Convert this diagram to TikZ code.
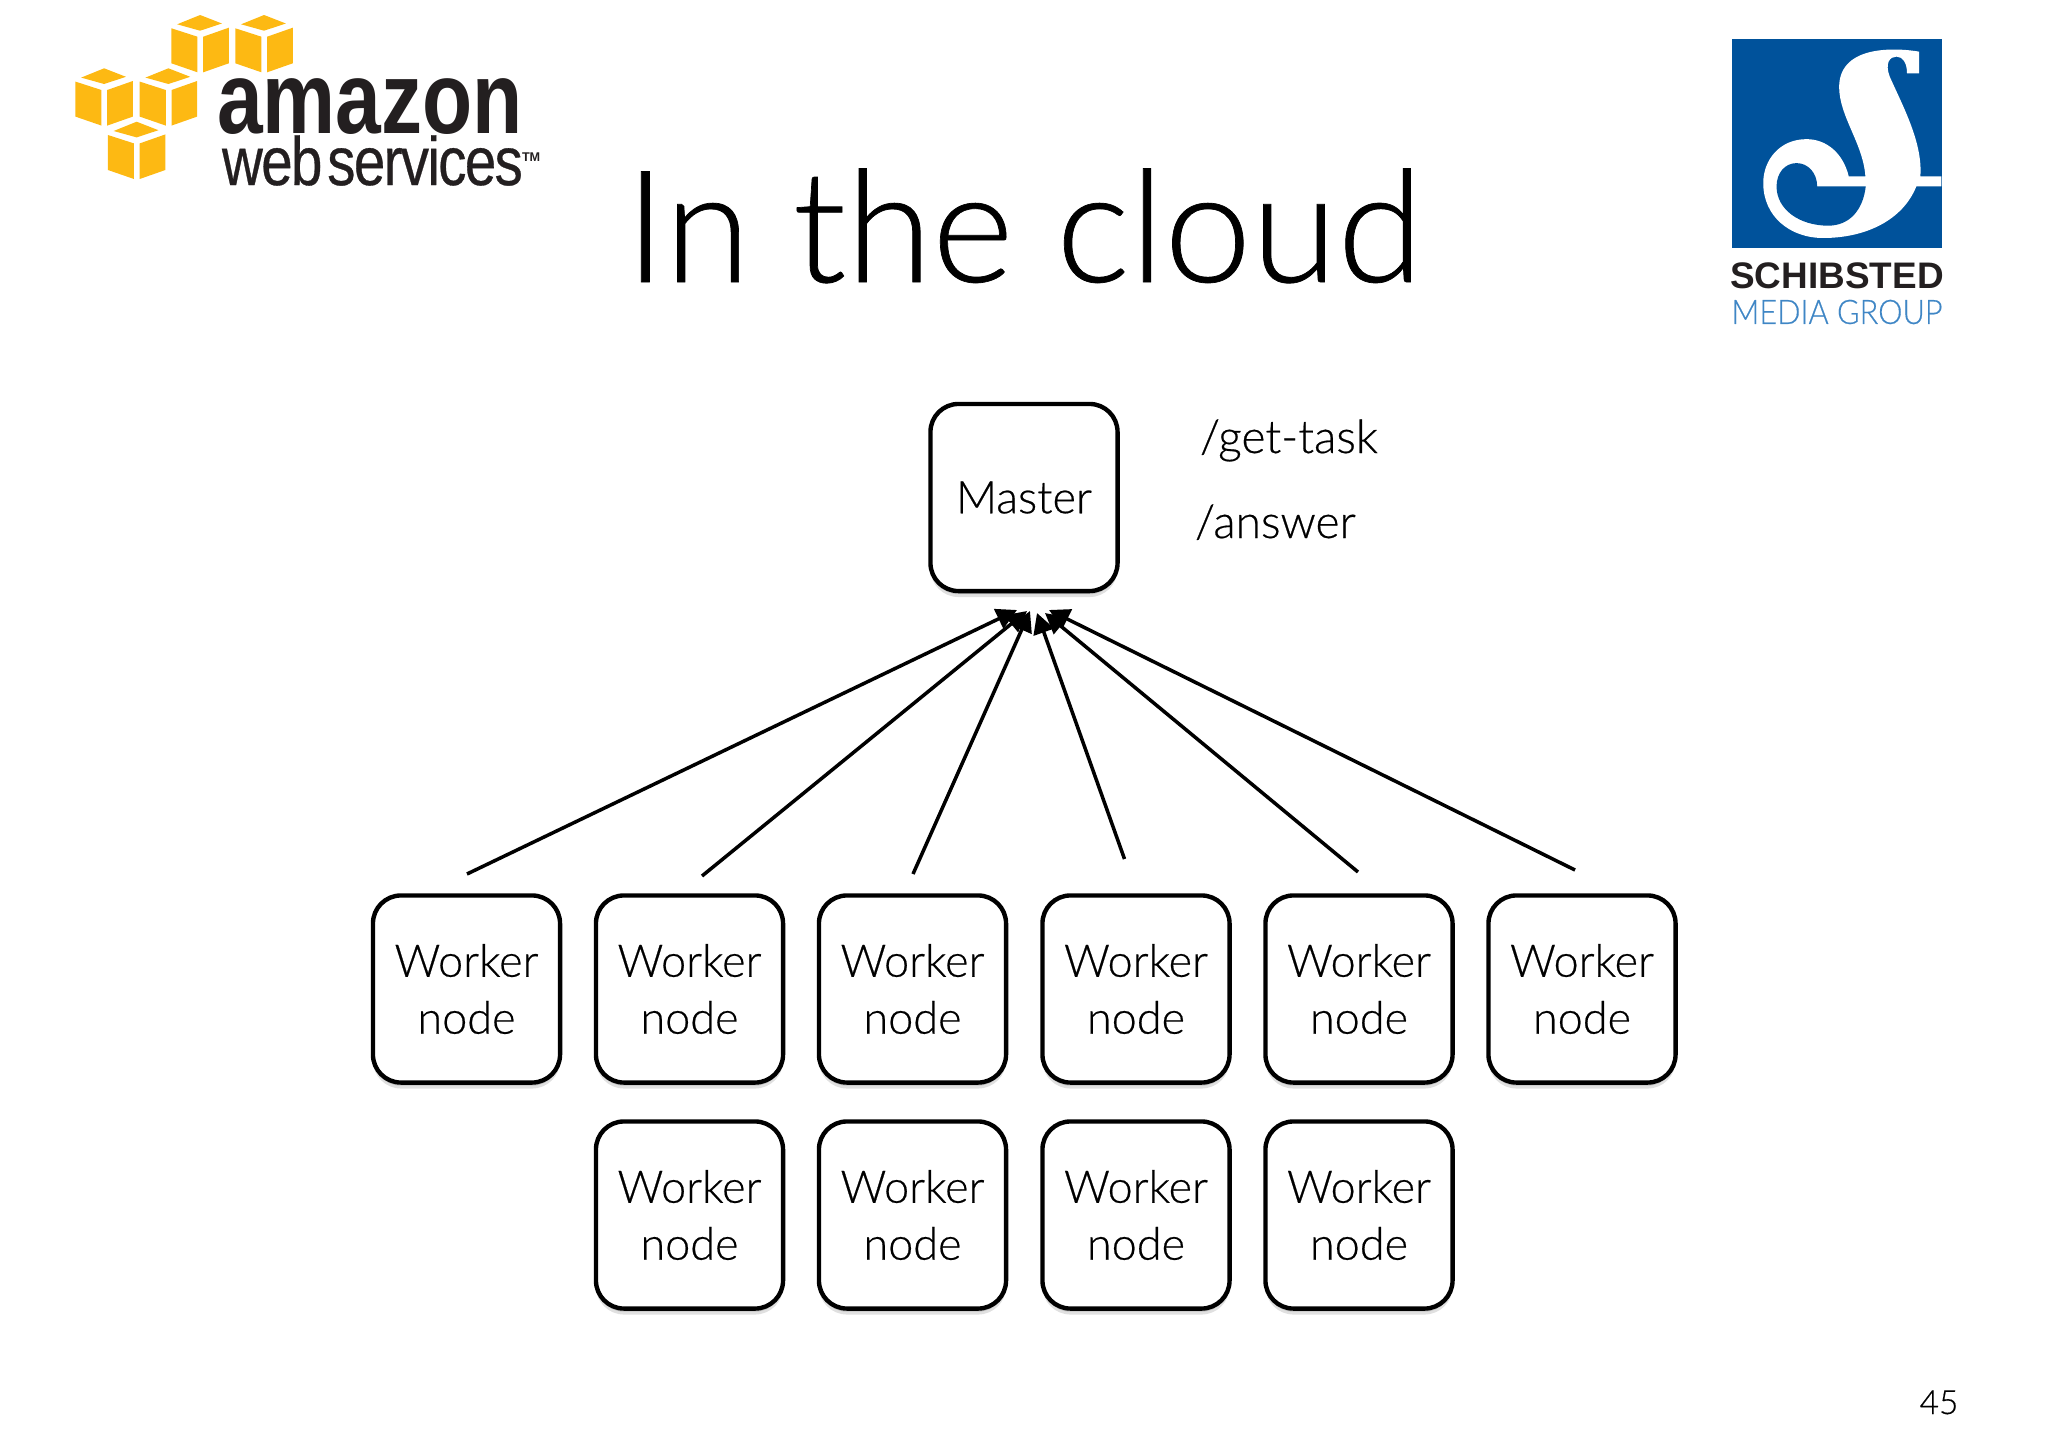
\documentclass[tikz,border=0pt]{standalone}
\usepackage{fontspec}
\setmainfont{Liberation Sans}
\newfontfamily\lightfont[FakeBold=0.45]{Lato Light}
\newfontfamily\tightfont[LetterSpace=-3,WordSpace=0.35,FakeBold=0.5]{Liberation Sans}
\usetikzlibrary{arrows.meta,shadows}

\tikzset{
    boxnode/.style={draw, line width=1.25pt, rounded corners=0.28cm, fill=white, align=center,
        minimum width=1.87cm, minimum height=1.87cm, inner sep=0pt, outer sep=0pt,
        font=\lightfont\fontsize{12.8}{16.2}\selectfont,
        general shadow={fill=black, opacity=0.12, shadow yshift=-1.7pt},
        general shadow={fill=black, opacity=0.12, shadow yshift=-0.9pt}},
    workernode/.style={boxnode, execute at begin node={\rule{0pt}{1.02em}}},
    workerarrow/.style={-{Triangle[length=5.8pt,width=6pt]}, line width=1pt},
    plaintext/.style={inner sep=0pt, outer sep=0pt},
}
\definecolor{awsyellow}{HTML}{FDB913}
\definecolor{logoblack}{HTML}{231F20}
\definecolor{schibblue}{HTML}{00529B}
\definecolor{medialabel}{HTML}{3F86C5}

% one yellow cube of the logo, #1 is the point at its top
\newcommand{\awscube}[1]{
    \begin{scope}[shift={#1}]
        \fill[awsyellow] (-20,9.3) -- (0,0) -- (19,8.5) -- (0,15.7) -- cycle;
        \fill[awsyellow] (-25,13.3) -- (-2.3,21.7) -- (-2.3,57.3) -- (-25,48.3) -- cycle;
        \fill[awsyellow] (2.7,21.7) -- (25,12.7) -- (25,48.3) -- (2.7,57.3) -- cycle;
    \end{scope}
}

\begin{document}
\begin{tikzpicture}[x=0.01cm, y=-0.01cm]
    \useasboundingbox (0,0) rectangle (2048,1448);

    % left logo
    \begin{scope}[x=0.01148cm, y=-0.01cm]
        \awscube{(174.3,15)}
        \awscube{(230,15)}
        \awscube{(90.7,68.3)}
        \awscube{(146.7,68.3)}
        \awscube{(119,121.7)}
    \end{scope}
    \node[plaintext, anchor=base west, text=logoblack, font=\fontsize{29}{29}\selectfont\bfseries, xscale=0.805, transform shape] (amazon) at (217,133) {amazon};
    \node[plaintext, anchor=base west, text=logoblack, font=\tightfont\fontsize{19.5}{19.5}\selectfont, xscale=0.825, transform shape] (webservices) at (222,185) {web services};
    \node[plaintext, anchor=base west, text=logoblack, font=\fontsize{3.6}{4}\selectfont\bfseries] (tm) at (522,161) {TM};

    % right logo
    \fill[schibblue] (1732,39) rectangle (1942,248);
    \begin{scope}[shift={(1700,20)}, x=0.00333cm, y=-0.00333cm]
        \fill[white] (658,95) .. controls (600,85) and (420,70) .. (418,200)
            .. controls (418,290) and (490,370) .. (497,470) -- (447,470)
            .. controls (430,400) and (380,358) .. (320,358)
            .. controls (240,358) and (190,420) .. (190,490)
            .. controls (190,590) and (270,655) .. (370,655)
            .. controls (500,655) and (610,600) .. (650,500)
            -- (725,500) -- (725,470) -- (662,470)
            .. controls (670,370) and (610,260) .. (570,170)
            .. controls (555,130) and (570,110) .. (590,110)
            .. controls (610,110) and (622,130) .. (622,160)
            -- (658,160) -- cycle;
        \fill[schibblue] (352,500) -- (498,500)
            .. controls (490,570) and (450,618) .. (385,618)
            .. controls (300,618) and (230,570) .. (230,500)
            .. controls (230,460) and (255,430) .. (290,430)
            .. controls (325,430) and (352,460) .. (352,500) -- cycle;
    \end{scope}
    \node[plaintext, text=logoblack, font=\fontsize{10.5}{10.5}\selectfont\bfseries] (schibsted) at (1837,276) {SCHIBSTED};
    \node[plaintext, text=medialabel, font=\lightfont\fontsize{9.6}{9.6}\selectfont, xscale=0.91, transform shape] (media) at (1837,312) {MEDIA GROUP};

    % title
    \node[plaintext, anchor=base, font=\lightfont\fontsize{44.4}{44.4}\selectfont] (title) at (1024,282) {In the cloud};

    \node[boxnode] (master) at (1024,497.5) {Master};
    \node[plaintext, anchor=base west, font=\lightfont\fontsize{13.1}{13.1}\selectfont] (gettask) at (1200,453) {/get-task};
    \node[plaintext, anchor=base west, font=\lightfont\fontsize{13.1}{13.1}\selectfont] (answer) at (1195,538) {/answer};

    \node[workernode] (w1) at (466.5,989) {Worker\\node};
    \node[workernode] (w2) at (689.5,989) {Worker\\node};
    \node[workernode] (w3) at (912.5,989) {Worker\\node};
    \node[workernode] (w4) at (1136,989) {Worker\\node};
    \node[workernode] (w5) at (1359,989) {Worker\\node};
    \node[workernode] (w6) at (1582,989) {Worker\\node};
    \node[workernode] (w7) at (689.5,1215) {Worker\\node};
    \node[workernode] (w8) at (912.5,1215) {Worker\\node};
    \node[workernode] (w9) at (1136,1215) {Worker\\node};
    \node[workernode] (w10) at (1359,1215) {Worker\\node};

    \coordinate (s1) at (467,874);
    \coordinate (s2) at (702,876);
    \coordinate (s3) at (913,874);
    \coordinate (s4) at (1124.5,859);
    \coordinate (s5) at (1358,872);
    \coordinate (s6) at (1575,870);
    \coordinate (t1) at (1017,610);
    \coordinate (t2) at (1027,611);
    \coordinate (t3) at (1030,611);
    \coordinate (t4) at (1037,613);
    \coordinate (t5) at (1045,613);
    \coordinate (t6) at (1049,610);

    \draw[workerarrow] (s1) -- (t1);
    \draw[workerarrow] (s2) -- (t2);
    \draw[workerarrow] (s3) -- (t3);
    \draw[workerarrow] (s4) -- (t4);
    \draw[workerarrow] (s5) -- (t5);
    \draw[workerarrow] (s6) -- (t6);

    \node[plaintext, anchor=base, font=\lightfont\fontsize{9.5}{9.5}\selectfont] (pagenum) at (1939,1414) {45};
\end{tikzpicture}
\end{document}
